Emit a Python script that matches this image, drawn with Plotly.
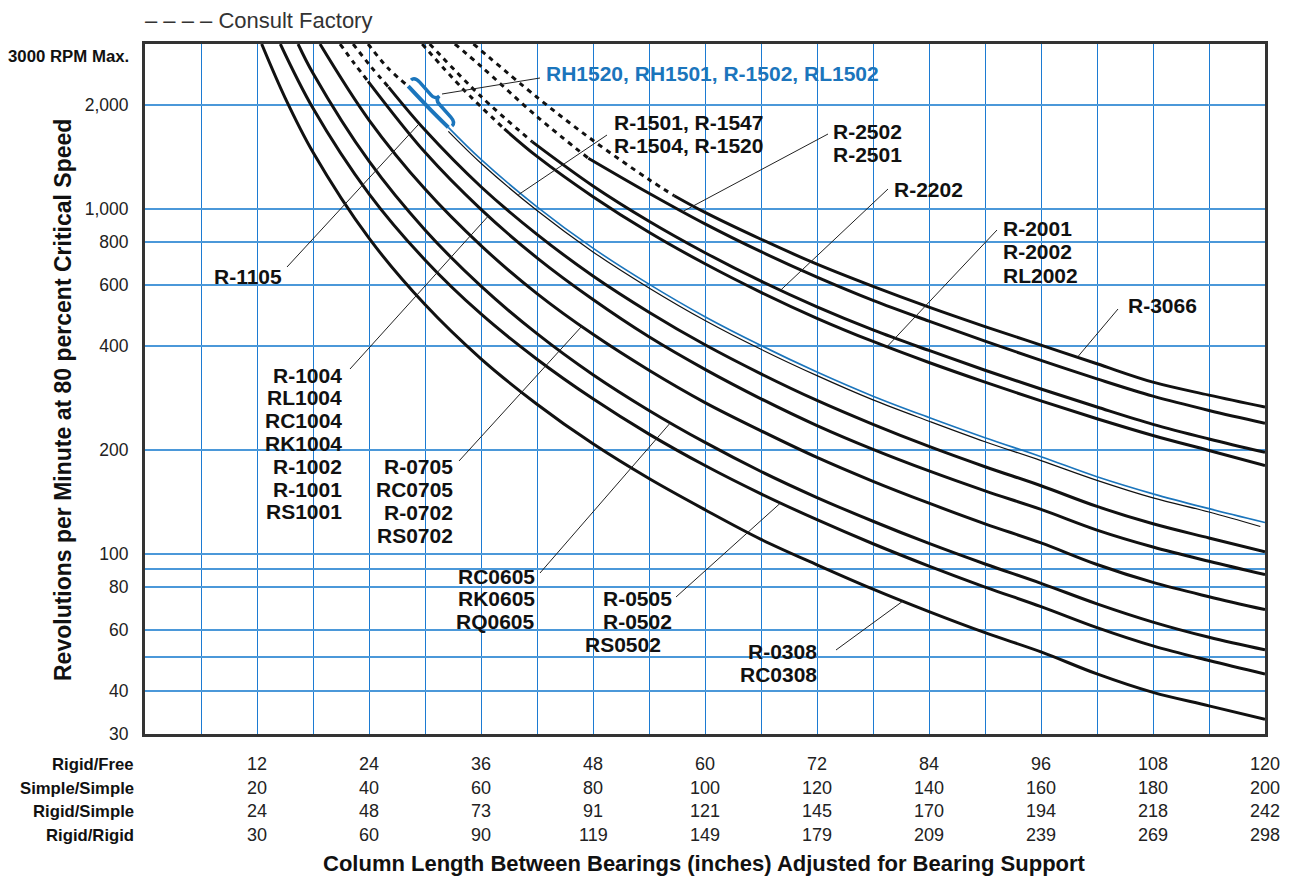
import numpy as np
import plotly.graph_objects as go

# ---------------- data ----------------
# Column length in inches (Rigid/Free scale) and RPM at 80% critical speed
x_R0308 = [12.5, 15, 18, 24, 30, 36, 42, 48, 54, 60, 66, 72, 78, 84, 90, 96, 102, 108, 114, 120]
rpm_R0308 = [3000, 2098, 1457, 821, 527, 367, 271, 208, 165, 134, 110, 92.8, 78.9, 67.9, 59.0, 51.9, 44.8, 39.6, 36.2, 33.1]

x_R0505 = [14.5, 18, 24, 30, 36, 42, 48, 54, 60, 66, 72, 78, 84, 90, 96, 102, 108, 114, 120]
rpm_R0505 = [3000, 1954, 1104, 710, 495, 366, 281, 222, 180, 149, 125.4, 106.8, 92.0, 80.0, 70.2, 61.0, 54.0, 49.0, 44.8]

x_RC0605 = [16.4, 18, 24, 30, 36, 42, 48, 54, 60, 66, 72, 78, 84, 90, 96, 102, 108, 114, 120]
rpm_RC0605 = [3000, 2469, 1372, 867, 596, 434, 330, 260, 210, 173, 145.4, 124.1, 107.0, 93.3, 82.0, 71.5, 63.3, 57.2, 52.6]

x_R0705 = [18.75, 24, 30, 36, 42, 48, 54, 60, 66, 72, 78, 84, 90, 96, 102, 108, 114, 120]
rpm_R0705 = [3000, 1806, 1139, 781, 567, 432, 340, 274, 227, 190, 162, 140, 122, 107.4, 93.0, 82.5, 75.0, 68.8]

x_R1004_dash = [20.9, 22.4, 23.9]
rpm_R1004_dash = [3000, 2640, 2339]
x_R1004 = [23.9, 30, 36, 42, 48, 54, 60, 66, 72, 78, 84, 90, 96, 102, 108, 114, 120]
rpm_R1004 = [2339, 1456, 995, 720, 545, 425, 342, 281, 235, 200.5, 173.6, 152, 134.3, 117, 104.5, 95, 86.9]

x_R1105_dash = [22.3, 24.2, 26.1]
rpm_R1105_dash = [3000, 2580, 2250]
x_R1105 = [26.1, 30, 36, 42, 48, 54, 60, 66, 72, 78, 84, 90, 96, 102, 108, 114, 120]
rpm_R1105 = [2250, 1689, 1157, 842, 638, 501, 403, 332, 278, 237, 204.5, 178.6, 157.3, 137, 122, 111, 101.3]

x_RH1520_dash = [23.9, 26, 28.2]
rpm_RH1520_dash = [3000, 2560, 2265]
x_RH1520_bold = [28.2, 30.4, 32.5]
rpm_RH1520_bold = [2265, 1960, 1720]
x_RH1520 = [32.5, 36, 42, 48, 54, 60, 66, 72, 78, 84, 90, 96, 102, 108, 114, 120]
rpm_RH1520 = [1720, 1389, 1012, 768, 604, 486, 401, 336, 286, 248, 216.7, 191, 167, 149, 135, 123.1]

x_R1501 = [32.5, 36, 42, 48, 54, 60, 66, 72, 78, 84, 90, 96, 102, 108, 114, 119.5]
rpm_R1501 = [1675, 1354, 987, 749, 589, 474, 391, 328, 279, 242, 211, 186, 163, 145, 132, 119.8]

x_R2001_dash = [29.7, 34, 38.5]
rpm_R2001_dash = [3000, 2232, 1702]
x_R2001 = [38.5, 42, 48, 54, 60, 66, 72, 78, 84, 90, 96, 102, 108, 114, 120]
rpm_R2001 = [1702, 1417, 1083, 854, 692, 572, 481, 412, 358, 314, 277, 246, 220, 199, 180]

x_R2202_dash = [30.5, 36, 41.5]
rpm_R2202_dash = [3000, 2114, 1561]
x_R2202 = [41.5, 48, 54, 60, 66, 72, 78, 84, 90, 96, 102, 108, 114, 120]
rpm_R2202 = [1561, 1163, 919, 745, 616, 519, 445, 388, 340, 300, 266, 237, 215, 196.6]

x_R2502_dash = [33.2, 36, 42, 47.5]
rpm_R2502_dash = [3000, 2585, 1848, 1400]
x_R2502 = [47.5, 54, 60, 66, 72, 78, 84, 90, 96, 102, 108, 114, 120]
rpm_R2502 = [1400, 1108, 903, 750, 633, 542, 472, 413, 363, 321, 286, 260, 238.8]

x_R3066_dash = [35.2, 42, 48, 54, 56.7]
rpm_R3066_dash = [3000, 2103, 1576, 1214, 1090]
x_R3066 = [56.7, 60, 66, 72, 78, 84, 90, 96, 102, 108, 114, 120]
rpm_R3066 = [1090, 975, 815, 690, 595, 518, 455, 402, 355, 314, 288, 265.8]

# bottom scale table (tick labels)
row_names = ["Rigid/Free", "Simple/Simple", "Rigid/Simple", "Rigid/Rigid"]
rigid_free = [12, 24, 36, 48, 60, 72, 84, 96, 108, 120]
simple_simple = [20, 40, 60, 80, 100, 120, 140, 160, 180, 200]
rigid_simple = [24, 48, 73, 91, 121, 145, 170, 194, 218, 242]
rigid_rigid = [30, 60, 90, 119, 149, 179, 209, 239, 269, 298]

# y axis ticks (grid lines) and labels
y_tickvals = [30, 40, 50, 60, 80, 90, 100, 200, 400, 600, 800, 1000, 2000]
y_ticktext = ["30", "40", "", "60", "80", "", "100", "200", "400", "600", "800", "1,000", "2,000"]

# ---------------- layout constants ----------------
# the page body has an 8px margin, so the figure sits at (8, 8) in the window;
# positions below are given in window pixels and the plot area spans
# x 145..1265, y 44..734 of the window.
OFF = 8
W, H = 1293 - 2 * OFF, 892 - 2 * OFF
PL, PR, PT, PB = 145, 1265, 44, 734
ML, MR, MT, MB = PL - OFF, (OFF + W) - PR, PT - OFF, (OFF + H) - PB
PW, PH = PR - PL, PB - PT
X0, X1 = 0, 120
Y0, Y1 = 30, 3000

FONT = "Liberation Sans, Arial, Helvetica, sans-serif"
BLACK = "#111111"
BLUE = "#1b75bc"
GRID_X = "#1c7bd2"
GRID_Y = "#4b98d9"


def px2paper_x(px):
    return (px - PL) / PW


def px2paper_y(py):
    return (PB - py) / PH


def px2data_x(px):
    return X0 + (px - PL) / PW * (X1 - X0)


def px2data_y(py):
    lo, hi = np.log10(Y0), np.log10(Y1)
    return 10 ** (lo + (PB - py) / PH * (hi - lo))


def on_curve(xs, ys, x):
    return float(10 ** np.interp(x, xs, np.log10(ys)))


fig = go.Figure()

thick_curves = [
    (x_R0308, rpm_R0308), (x_R0505, rpm_R0505), (x_RC0605, rpm_RC0605),
    (x_R0705, rpm_R0705), (x_R1004, rpm_R1004), (x_R1105, rpm_R1105),
    (x_R2001, rpm_R2001), (x_R2202, rpm_R2202), (x_R2502, rpm_R2502),
    (x_R3066, rpm_R3066),
]
dashed_curves = [
    (x_R1004_dash, rpm_R1004_dash), (x_R1105_dash, rpm_R1105_dash),
    (x_RH1520_dash, rpm_RH1520_dash), (x_R2001_dash, rpm_R2001_dash),
    (x_R2202_dash, rpm_R2202_dash), (x_R2502_dash, rpm_R2502_dash),
    (x_R3066_dash, rpm_R3066_dash),
]

for xs, ys in dashed_curves:
    fig.add_trace(go.Scatter(x=xs, y=ys, mode="lines",
                             line=dict(color=BLACK, width=3, dash="5px,5px", shape="spline"),
                             hoverinfo="skip"))
for xs, ys in thick_curves:
    fig.add_trace(go.Scatter(x=xs, y=ys, mode="lines",
                             line=dict(color=BLACK, width=3, shape="spline"),
                             hoverinfo="skip"))
# thin black (R-1501 group) and blue (RH1520 group)
fig.add_trace(go.Scatter(x=x_R1501, y=rpm_R1501, mode="lines",
                         line=dict(color=BLACK, width=1.2, shape="spline"), hoverinfo="skip"))
fig.add_trace(go.Scatter(x=x_RH1520, y=rpm_RH1520, mode="lines",
                         line=dict(color=BLUE, width=1.6, shape="spline"), hoverinfo="skip"))
fig.add_trace(go.Scatter(x=x_RH1520_bold, y=rpm_RH1520_bold, mode="lines",
                         line=dict(color=BLUE, width=4, shape="spline"), hoverinfo="skip"))

# ---------------- leader lines ----------------
leaders = [
    ((287, 267), x_R1105, rpm_R1105, 29.4),
    ((350, 369), x_R1004, rpm_R1004, 36.8),
    ((459, 461), x_R0705, rpm_R0705, 46.8),
    ((540, 573), x_RC0605, rpm_RC0605, 56.3),
    ((676, 597), x_R0505, rpm_R0505, 68.1),
    ((836, 650), x_R0308, rpm_R0308, 81.2),
    ((607, 135), x_R1501, rpm_R1501, 40.0),
    ((828, 134), x_R2502, rpm_R2502, 57.6),
    ((888, 189), x_R2202, rpm_R2202, 68.1),
    ((997, 230), x_R2001, rpm_R2001, 79.5),
    ((1118, 309), x_R3066, rpm_R3066, 99.9),
]
shapes = []
for (lpx, lpy), xs, ys, xc in leaders:
    shapes.append(dict(type="line", xref="x", yref="y",
                       x0=px2data_x(lpx), y0=px2data_y(lpy),
                       x1=xc, y1=on_curve(xs, ys, xc),
                       line=dict(color="#222222", width=1)))
# leader from the blue brace to its label
shapes.append(dict(type="line", xref="x", yref="y",
                   x0=px2data_x(442), y0=px2data_y(94),
                   x1=px2data_x(540), y1=px2data_y(78),
                   line=dict(color="#222222", width=1)))


# blue curly brace beside the bold blue segment (drawn as a path in paper units)
def brace_path(a, b, depth):
    a, b = np.array(a, float), np.array(b, float)
    u = (b - a) / np.linalg.norm(b - a)
    n = np.array([u[1], -u[0]])          # normal pointing up/right
    L = np.linalg.norm(b - a)

    def p(s, o):
        q = a + u * s * L + n * o
        return f"{px2paper_x(q[0]):.5f},{px2paper_y(q[1]):.5f}"

    d = depth
    return (f"M {p(0, 0)} Q {p(0, d)} {p(0.12, d)} L {p(0.40, d)} "
            f"Q {p(0.5, d)} {p(0.5, 2.1 * d)} Q {p(0.5, d)} {p(0.60, d)} "
            f"L {p(0.88, d)} Q {p(1, d)} {p(1, 0)}")


shapes.append(dict(type="path", xref="paper", yref="paper",
                   path=brace_path((411, 80), (452, 126), 5),
                   line=dict(color=BLUE, width=3.5)))

# ---------------- text labels ----------------
annotations = []


def label(text, px, py, anchor="left", color=BLACK, size=21, bold=True, family=FONT):
    annotations.append(dict(
        text=f"<b>{text}</b>" if bold else text,
        x=px2paper_x(px), y=px2paper_y(py), xref="paper", yref="paper",
        xanchor=anchor, yanchor="middle", showarrow=False,
        font=dict(family=family, size=size, color=color)))


# right-aligned groups
label("R-1105", 284, 276, "right")
for i, t in enumerate(["R-1004", "RL1004", "RC1004", "RK1004", "R-1002", "R-1001", "RS1001"]):
    label(t, 344, 375 + i * 22.8, "right")
for i, t in enumerate(["R-0705", "RC0705", "R-0702", "RS0702"]):
    label(t, 455, 466 + i * 23, "right")
for i, t in enumerate(["RC0605", "RK0605", "RQ0605"]):
    label(t, 537, 576 + i * 22.5, "right")
label("R-0505", 674, 598, "right")
label("R-0502", 674, 621, "right")
label("RS0502", 663, 644, "right")
label("R-0308", 819, 651, "right")
label("RC0308", 819, 674, "right")
# left-aligned groups
label("RH1520, RH1501, R-1502, RL1502", 544, 74, "left", color=BLUE)
label("R-1501, R-1547", 612, 122, "left")
label("R-1504, R-1520", 612, 145, "left")
label("R-2502", 831, 132, "left")
label("R-2501", 831, 155, "left")
label("R-2202", 892, 189, "left")
label("R-2001", 1001, 229, "left")
label("R-2002", 1001, 252, "left")
label("RL2002", 1001, 275, "left")
label("R-3066", 1126, 305, "left")

# top notes
label("– – – – Consult Factory", 143, 21, "left", color="#333333", size=22, bold=False)
label("3000 RPM Max.", 131, 56, "right", color=BLACK, size=16.8)

# y axis title
annotations.append(dict(text="<b>Revolutions per Minute at 80 percent Critical Speed</b>",
                        x=px2paper_x(63), y=px2paper_y(400), xref="paper", yref="paper",
                        textangle=-90, showarrow=False, xanchor="center", yanchor="middle",
                        font=dict(family=FONT, size=23, color=BLACK)))
# x axis title
annotations.append(dict(text="<b>Column Length Between Bearings (inches) Adjusted for Bearing Support</b>",
                        x=px2paper_x(704), y=px2paper_y(863), xref="paper", yref="paper",
                        showarrow=False, xanchor="center", yanchor="middle",
                        font=dict(family=FONT, size=22, color=BLACK)))

# bottom scale table
row_py = [764, 788, 811, 835]
rows = [rigid_free, simple_simple, rigid_simple, rigid_rigid]
for name, vals, py in zip(row_names, rows, row_py):
    label(name, 136, py, "right", size=16.7)
    for xv, v in zip(rigid_free, vals):
        annotations.append(dict(text=str(v), x=xv, y=px2paper_y(py), xref="x", yref="paper",
                                xanchor="center", yanchor="middle", showarrow=False,
                                font=dict(family=FONT, size=18, color="#222222")))

fig.update_layout(
    width=W, height=H,
    margin=dict(l=ML, r=MR, t=MT, b=MB, pad=0),
    paper_bgcolor="white", plot_bgcolor="white",
    showlegend=False,
    shapes=shapes, annotations=annotations,
    xaxis=dict(range=[X0, X1], tick0=0, dtick=6, showgrid=True, gridcolor=GRID_X,
               gridwidth=1, showticklabels=False, ticks="", zeroline=False,
               showline=True, mirror=True, linecolor="#333333", linewidth=3),
    yaxis=dict(type="log", range=[np.log10(Y0), np.log10(Y1)], tickvals=y_tickvals,
               ticktext=y_ticktext, showgrid=True, gridcolor=GRID_Y, gridwidth=2,
               ticks="outside", ticklen=10, tickcolor="rgba(0,0,0,0)",
               tickfont=dict(family=FONT, size=17.5, color="#222222"),
               zeroline=False, showline=True, mirror=True, linecolor="#333333", linewidth=3),
)

fig.write_html("out.html")
